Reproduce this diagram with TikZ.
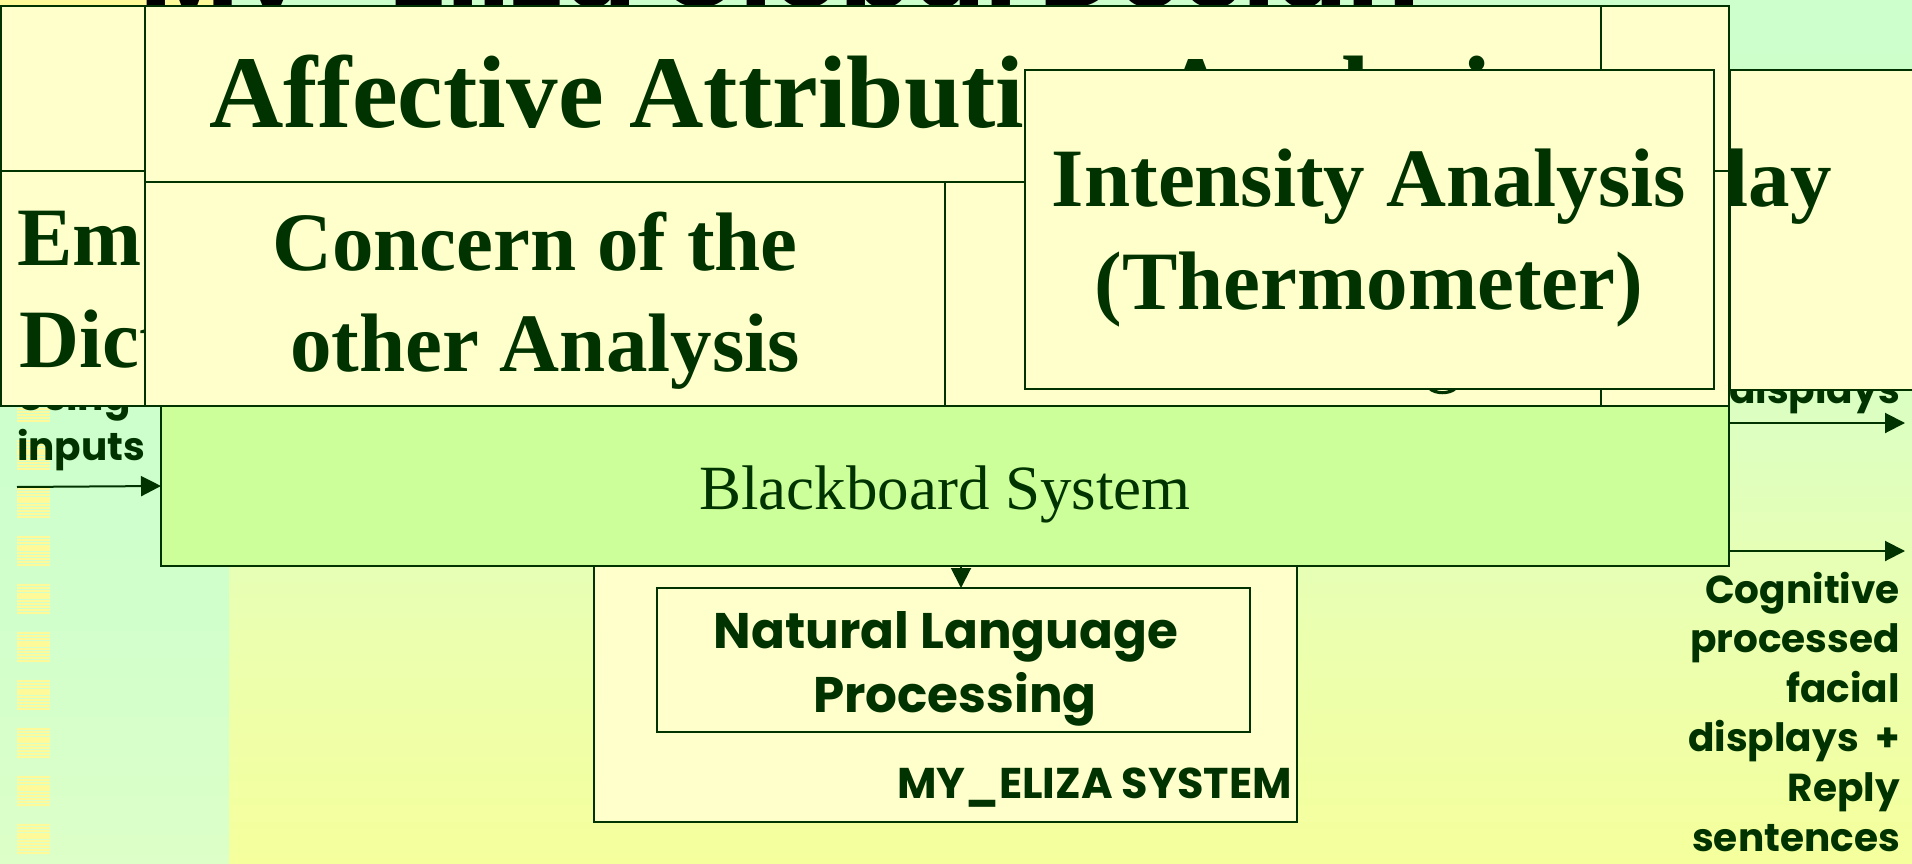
\documentclass[tikz,border=0pt]{standalone}
\usepackage{fontspec}
\setmainfont{Liberation Serif}
\newfontfamily\gothic{Poppins}
\usetikzlibrary{arrows.meta}
\definecolor{dg}{HTML}{003300}
\definecolor{cellc}{HTML}{FFFFCC}
\definecolor{bbfill}{HTML}{CCFF99}
\definecolor{ystripe}{HTML}{FFFA99}
\definecolor{bgA}{HTML}{F5FF9C}
\definecolor{bgB}{HTML}{ECFFAE}
\definecolor{bgC}{HTML}{DDFFC0}
\definecolor{bgD}{HTML}{D0FFCA}
\definecolor{bgE}{HTML}{CCFFCC}
\definecolor{lsA}{HTML}{DDFFC8}
\definecolor{lsB}{HTML}{D2FFCB}
\pgfdeclareverticalshading{bgmain}{100bp}{color(0bp)=(bgA); color(25bp)=(bgA); color(37.5bp)=(bgB); color(50bp)=(bgC); color(62.5bp)=(bgD); color(75bp)=(bgE); color(100bp)=(bgE)}
\pgfdeclareverticalshading{bgleft}{100bp}{color(0bp)=(lsA); color(25bp)=(lsA); color(37.5bp)=(lsB); color(50bp)=(bgE); color(75bp)=(bgE); color(100bp)=(bgE)}
\begin{document}
\begin{tikzpicture}[x=1pt,y=-1pt,
  cellbox/.style={draw=dg, fill=cellc, line width=2pt, inner sep=0pt, outer sep=0pt, anchor=north west},
  bigserif/.style={font=\bfseries\fontsize{83}{100}\selectfont, text=dg, inner sep=0pt},
  lbl/.style={font=\gothic\bfseries\fontsize{39}{47}\selectfont, text=dg, inner sep=0pt},
  conn/.style={draw=dg, line width=2pt, -{Triangle[length=20pt,width=20pt]}}
]
\useasboundingbox (0,0) rectangle (1912,864);
% background
\shade[shading=bgmain] (0,0) rectangle (1912,864);
\shade[shading=bgleft] (0,0) rectangle (229,864);
\fill[ystripe] (0,0) rectangle (225,6.5);
\foreach \k in {0,...,9}{
  \foreach \j in {0,...,9}{
    \fill[ystripe] (17,{392+48*\k+3.1*\j}) rectangle (50,{392+48*\k+3.1*\j+2.2});
  }
}
% title (mostly off the page)
\node[anchor=base west, inner sep=0pt, font=\gothic\bfseries\fontsize{107}{110}\selectfont, text=black] (title) at (140,8) {My\_Eliza Global Design};
% free labels
\node[lbl, anchor=base west] (in1) at (17,410) {Using};
\node[lbl, anchor=base west] (in2) at (17,460) {inputs};
\node[lbl, anchor=base east] (disp) at (1900,403) {displays};
\node[lbl, anchor=base east] (cg1) at (1900,603) {Cognitive};
\node[lbl, anchor=base east] (cg2) at (1900,652.6) {processed};
\node[lbl, anchor=base east] (cg3) at (1900,702.2) {facial};
\node[lbl, anchor=base east] (cg4) at (1900,751.8) {displays\ \ +};
\node[lbl, anchor=base east] (cg5) at (1900,801.4) {Reply};
\node[lbl, anchor=base east] (cg6) at (1900,851) {sentences};
% display box (behind the frame)
\node[cellbox, minimum width=220, minimum height=320] (dbox) at (1730,70) {};
\node[bigserif, anchor=base east] (dtxt) at (1832,206) {Display};
% frame cells
\node[cellbox, minimum width=144, minimum height=165] (cA) at (1,6) {};
\node[cellbox, minimum width=144, minimum height=235] (cB) at (1,171) {};
\begin{scope}
  \clip (1,171) rectangle (145,406);
  \node[bigserif, anchor=base west] (em) at (17,265) {Emo};
  \node[bigserif, anchor=base west] (dic) at (19,367) {Dict};
\end{scope}
\node[cellbox, minimum width=128, minimum height=165] (cF) at (1601,6) {};
\node[cellbox, minimum width=128, minimum height=235] (cG) at (1601,171) {};
\node[cellbox, minimum width=1456, minimum height=176] (cC) at (145,6) {};
\node[bigserif, font=\bfseries\fontsize{103}{120}\selectfont, anchor=base] (aff) at (870,128) {Affective Attribution Analysis};
\node[cellbox, minimum width=800, minimum height=224] (cD) at (145,182) {};
\node[bigserif, anchor=base] (con1) at (535,270) {Concern of the};
\node[bigserif, anchor=base] (con2) at (545,371) {other Analysis};
\node[cellbox, minimum width=656, minimum height=224] (cE) at (945,182) {};
\fill[dg] (1428,389) .. controls (1434,396) and (1451,396) .. (1457,389) -- (1451,389) .. controls (1446,392) and (1439,392) .. (1434,389) -- cycle;
% intensity box
\node[cellbox, minimum width=689, minimum height=319] (ibox) at (1025,70) {};
\node[bigserif, anchor=base] (int1) at (1369,206) {Intensity Analysis};
\node[bigserif, anchor=base] (int2) at (1369,309) {(Thermometer)};
% MY_ELIZA system
\node[cellbox, minimum width=703, minimum height=256] (eliza) at (594,566) {};
\node[lbl, font=\gothic\bfseries\fontsize{43}{50}\selectfont, anchor=base east] (elizat) at (1292,798) {MY\_ELIZA SYSTEM};
\node[cellbox, minimum width=593, minimum height=144] (nlp) at (657,588) {};
\node[lbl, font=\gothic\bfseries\fontsize{50}{58}\selectfont, anchor=base] (nlp1) at (946,648) {Natural Language};
\node[lbl, font=\gothic\bfseries\fontsize{50}{58}\selectfont, anchor=base] (nlp2) at (955,712) {Processing};
% blackboard
\node[cellbox, fill=bbfill, minimum width=1568, minimum height=160, font=\fontsize{63}{70}\selectfont, text=dg, text height=46pt, text depth=0pt] (bb) at (161,406) {Blackboard System};
% connectors
\coordinate (inA) at (17,487);
\coordinate (o1) at (1905,423);
\coordinate (o2) at (1905,551);
\coordinate (dn) at (961,0);
\draw[conn] (inA) -- (bb.west);
\draw[conn] (bb.east |- o1) -- (o1);
\draw[conn] (bb.east |- o2) -- (o2);
\draw[conn] (bb.south -| dn) -- (nlp.north -| dn);
\end{tikzpicture}
\end{document}
